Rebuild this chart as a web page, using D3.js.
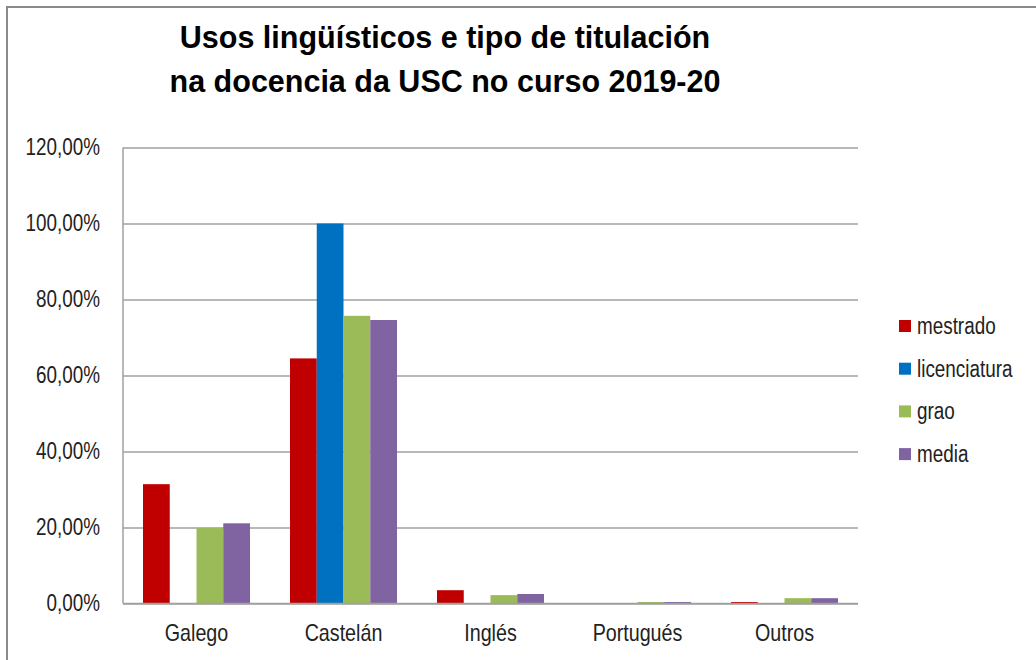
<!DOCTYPE html>
<html>
<head>
<meta charset="utf-8">
<script src="https://cdn.jsdelivr.net/npm/d3@7"></script>
<style>
  body { margin: 0; background: #fff; }
  text { font-family: "Liberation Sans", Arial, sans-serif; fill: #222; }
  .title { font-weight: bold; fill: #000; }
</style>
</head>
<body>
<div id="chart"></div>
<script>
var categories = ["Galego", "Castelán", "Inglés", "Portugués", "Outros"];
var seriesNames = ["mestrado", "licenciatura", "grao", "media"];
var mestrado = [0.314, 0.645, 0.035, 0, 0.004];
var licenciatura = [0, 1.0, 0, 0, 0];
var grao = [0.199, 0.757, 0.022, 0.004, 0.014];
var media = [0.211, 0.746, 0.025, 0.004, 0.014];
var yTicks = [0, 0.2, 0.4, 0.6, 0.8, 1.0, 1.2];
var titleLines = ["Usos lingüísticos e tipo de titulación", "na docencia da USC no curso 2019-20"];

var colors = ["#C00000", "#0070C0", "#9BBB59", "#8064A2"];
var seriesValues = [mestrado, licenciatura, grao, media];

var svgWidth = 1036;
var svgHeight = 660;

var svg = d3.select("#chart")
  .append("svg")
  .attr("width", svgWidth)
  .attr("height", svgHeight);

// outer frame (only left and top edges show in the picture)
svg.append("path")
  .attr("d", "M7,660 V7 H1036")
  .attr("fill", "none")
  .attr("stroke", "#8a8a8a")
  .attr("stroke-width", 2);

var plotLeft = 123, plotRight = 858, plotTop = 147.5, plotBottom = 603.5;

var x0 = d3.scaleBand()
  .domain(categories)
  .range([plotLeft, plotRight])
  .paddingInner(0.272)
  .paddingOuter(0.136);

var x1 = d3.scaleBand()
  .domain(seriesNames)
  .range([0, x0.bandwidth()]);

var y = d3.scaleLinear()
  .domain([0, 1.2])
  .range([plotBottom, plotTop]);

var locale = d3.formatLocale({decimal: ",", thousands: ".", grouping: [3], currency: ["", "€"]});
var pct = locale.format(".2%");

// squeeze a text horizontally, like Arial Narrow
function narrow(sel) {
  sel.each(function() {
    var w = this.getComputedTextLength();
    d3.select(this)
      .attr("textLength", w * 0.82)
      .attr("lengthAdjust", "spacingAndGlyphs");
  });
}

// gridlines + tick labels
var yAxis = svg.append("g")
  .attr("transform", `translate(${plotLeft},0)`)
  .call(d3.axisLeft(y).tickValues(yTicks).tickSize(-(plotRight - plotLeft)).tickPadding(23).tickFormat(pct));

yAxis.select(".domain").remove();
yAxis.selectAll(".tick line")
  .attr("stroke", "#a0a0a0")
  .attr("stroke-width", 1.5);
yAxis.selectAll(".tick text")
  .attr("font-size", 23)
  .attr("fill", "#222")
  .style("font-family", "'Liberation Sans', Arial, sans-serif")
  .call(narrow);

// left axis line
svg.append("line")
  .attr("x1", plotLeft).attr("x2", plotLeft)
  .attr("y1", plotTop).attr("y2", plotBottom)
  .attr("stroke", "#a0a0a0")
  .attr("stroke-width", 1.5);

// bars
var groups = svg.selectAll("g.cat")
  .data(categories)
  .enter()
  .append("g")
  .attr("class", "cat")
  .attr("transform", d => `translate(${x0(d)},0)`);

groups.selectAll("rect")
  .data((c, i) => seriesNames.map((s, j) => ({series: s, value: seriesValues[j][i], color: colors[j]})))
  .enter()
  .filter(d => d.value > 0)
  .append("rect")
  .attr("x", d => x1(d.series))
  .attr("y", d => y(d.value))
  .attr("width", x1.bandwidth())
  .attr("height", d => y(0) - y(d.value))
  .attr("fill", d => d.color);

// baseline on top of bars
svg.append("line")
  .attr("x1", plotLeft).attr("x2", plotRight)
  .attr("y1", plotBottom).attr("y2", plotBottom)
  .attr("stroke", "#a0a0a0")
  .attr("stroke-width", 1.5);

// category labels
svg.selectAll("text.catlabel")
  .data(categories)
  .enter()
  .append("text")
  .attr("class", "catlabel")
  .attr("x", d => x0(d) + x0.bandwidth() / 2)
  .attr("y", 641)
  .attr("text-anchor", "middle")
  .attr("font-size", 24)
  .text(d => d)
  .call(narrow);

// title
svg.selectAll("text.title")
  .data(titleLines)
  .enter()
  .append("text")
  .attr("class", "title")
  .attr("x", 445)
  .attr("y", (d, i) => 48 + i * 44)
  .attr("text-anchor", "middle")
  .attr("font-size", 30.5)
  .text(d => d);

// legend
var legend = svg.selectAll("g.legend")
  .data(seriesNames)
  .enter()
  .append("g")
  .attr("class", "legend")
  .attr("transform", (d, i) => `translate(899,${326 + i * 42.7})`);

legend.append("rect")
  .attr("x", 0)
  .attr("y", -6)
  .attr("width", 12)
  .attr("height", 12)
  .attr("fill", (d, i) => colors[i]);

legend.append("text")
  .attr("x", 18)
  .attr("y", 8)
  .attr("font-size", 23)
  .text(d => d)
  .call(narrow);
</script>
</body>
</html>
